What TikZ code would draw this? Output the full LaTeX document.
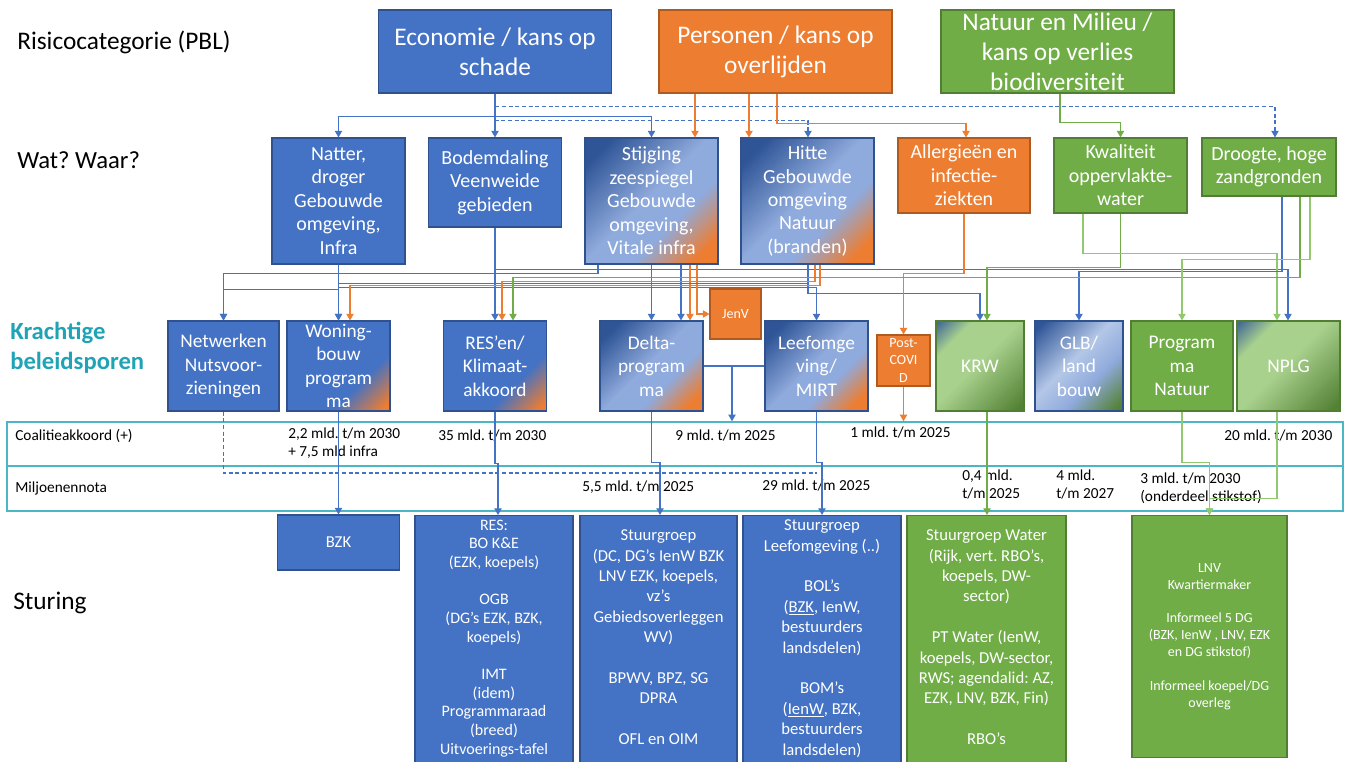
\documentclass[tikz,border=0pt]{standalone}
\usepackage{fontspec}
\setmainfont{Carlito}
\frenchspacing
\usetikzlibrary{positioning,arrows.meta}

\definecolor{accblue}{RGB}{68,114,196}
\definecolor{accblueline}{RGB}{47,82,143}
\definecolor{accorange}{RGB}{237,125,49}
\definecolor{accorangeline}{RGB}{174,90,33}
\definecolor{accgreen}{RGB}{112,173,71}
\definecolor{accgreenline}{RGB}{80,126,50}
\definecolor{darkblue}{RGB}{47,85,151}
\definecolor{paleblue}{RGB}{143,170,220}
\definecolor{palerblue}{RGB}{180,199,231}
\definecolor{palegreen}{RGB}{169,209,142}
\definecolor{darkgreen}{RGB}{84,130,53}
\definecolor{tealtext}{RGB}{32,163,181}
\definecolor{bandline}{RGB}{75,183,196}
\definecolor{lightgreenline}{RGB}{146,200,110}

%% diagonal fills, dark corner top left
\pgfdeclarehorizontalshading{blueorange}{100bp}{color(0bp)=(darkblue); color(22bp)=(darkblue); color(48bp)=(paleblue); color(62bp)=(paleblue); color(78bp)=(accorange); color(100bp)=(accorange)}
\pgfdeclarehorizontalshading{bluecorner}{100bp}{color(0bp)=(accblue); color(64bp)=(accblue); color(82bp)=(accorange); color(100bp)=(accorange)}
\pgfdeclarehorizontalshading{greenmix}{100bp}{color(0bp)=(darkblue); color(13bp)=(darkblue); color(29bp)=(palegreen); color(48bp)=(palegreen); color(82bp)=(darkgreen); color(100bp)=(darkgreen)}
\pgfdeclarehorizontalshading{bluegreen}{100bp}{color(0bp)=(darkblue); color(18bp)=(darkblue); color(45bp)=(palerblue); color(62bp)=(paleblue); color(82bp)=(darkgreen); color(100bp)=(darkgreen)}

\begin{document}
\begin{tikzpicture}[x=0.75pt,y=-0.75pt,>={Triangle[width=5.5pt,length=5pt]}]
\edef\unitpx{0.75pt}
\tikzset{wh/.style 2 args={minimum width=#1*\unitpx,minimum height=#2*\unitpx}}

\tikzstyle{cellbox}=[draw,align=center,text=white,inner sep=0pt,line width=0.8pt]
\tikzstyle{bluebox}=[cellbox,fill=accblue,draw=accblueline]
\tikzstyle{orangebox}=[cellbox,fill=accorange,draw=accorangeline]
\tikzstyle{greenbox}=[cellbox,fill=accgreen,draw=accgreenline]
\tikzstyle{mixbox}=[cellbox,draw=accblueline,shade,shading angle=-45]
\tikzstyle{catfont}=[font=\fontsize{19}{22.5}\selectfont]
\tikzstyle{whatfont}=[font=\fontsize{15}{17.6}\selectfont]
\tikzstyle{lanefont}=[font=\fontsize{14.5}{17.6}\selectfont]
\tikzstyle{sidelabel}=[anchor=west,inner sep=0pt,align=left,font=\fontsize{19}{22.5}\selectfont]
\tikzstyle{band}=[draw=bandline,line width=1.1pt,inner sep=0pt]
\tikzstyle{money}=[anchor=west,inner sep=0pt,align=left,font=\fontsize{11.5}{13.5}\selectfont]
\tikzstyle{steer}=[text=white,align=center,inner sep=0pt,font=\fontsize{12.5}{15.3}\selectfont]
\tikzstyle{bline}=[draw=accblue,line width=0.9pt]
\tikzstyle{oline}=[draw=accorange,line width=0.9pt]
\tikzstyle{gline}=[draw=accgreen,line width=0.9pt]
\tikzstyle{glight}=[draw=lightgreenline,line width=0.9pt]

\useasboundingbox (0,0) rectangle (1351,762);
\clip (0,0) rectangle (1351,762);

%% Row labels
\node[sidelabel] (lblcat) at (17,42) {Risicocategorie (PBL)};
\node[sidelabel,font=\fontsize{18.5}{22.5}\selectfont] (lblwhat) at (17,160) {Wat? Waar?};
\node[sidelabel,text=tealtext,font=\fontsize{18.5}{22.5}\selectfont\bfseries] (lbllane) at (10,348) {Krachtige\\beleidsporen};
\node[sidelabel] (lblsteer) at (13,603) {Sturing};

%% Risk categories
\node[bluebox,catfont,wh={233}{83}] (eco) at (495,51.5) {Economie / kans op\\schade};
\node[orangebox,catfont,wh={233}{83}] (pers) at (775.5,51.5) {Personen / kans op\\overlijden};
\node[greenbox,catfont,wh={233}{83}] (natuur) at (1057.5,51.5) {Natuur en Milieu /\\kans op verlies\\biodiversiteit};

%% What and where
\node[bluebox,whatfont,wh={133}{126}] (natter) at (338.5,201) {Natter,\\droger\\Gebouwde\\omgeving,\\Infra};
\node[bluebox,whatfont,wh={133}{89}] (bodem) at (495,182.5) {Bodemdaling\\Veenweide\\gebieden};
\node[mixbox,shading=blueorange,whatfont,wh={133}{126}] (stijging) at (651.5,201) {Stijging\\zeespiegel\\Gebouwde\\omgeving,\\Vitale infra};
\node[mixbox,shading=blueorange,whatfont,wh={133}{126}] (hitte) at (807.5,201) {Hitte\\Gebouwde\\omgeving\\Natuur\\(branden)};
\node[orangebox,whatfont,wh={132}{75}] (allerg) at (964,175.5) {Allergieën en\\infectie-\\ziekten};
\node[greenbox,whatfont,wh={133}{75}] (kwal) at (1120.5,175.5) {Kwaliteit\\oppervlakte-\\water};
\node[greenbox,whatfont,wh={134}{58}] (droogte) at (1269,167) {Droogte, hoge\\zandgronden};

%% Policy lanes
\node[bluebox,lanefont,wh={111}{90}] (netw) at (223.5,366) {Netwerken\\Nutsvoor-\\zieningen};
\node[mixbox,shading=bluecorner,lanefont,wh={103}{90}] (woning) at (338.5,366) {Woning-\\bouw\\program\\ma};
\node[mixbox,shading=bluecorner,lanefont,wh={103}{90}] (resen) at (495,366) {RES’en/\\Klimaat-\\akkoord};
\node[mixbox,shading=blueorange,lanefont,wh={103}{90}] (delta) at (651.5,366) {Delta-\\program\\ma};
\node[orangebox,font=\fontsize{10.5}{13}\selectfont,wh={51}{50}] (jenv) at (735.5,314) {JenV};
\node[mixbox,shading=blueorange,lanefont,wh={103}{90}] (leef) at (816.5,366) {Leefomge\\ving/\\MIRT};
\node[orangebox,font=\fontsize{10.5}{13}\selectfont,wh={53}{51}] (covid) at (903.5,360.5) {Post-\\COVI\\D};
\node[mixbox,shading=greenmix,draw=accgreenline,lanefont,wh={88}{90}] (krw) at (980,366) {KRW};
\node[mixbox,shading=bluegreen,lanefont,wh={88}{90}] (glb) at (1079,366) {GLB/\\land\\bouw};
\node[greenbox,lanefont,wh={102}{90}] (prognat) at (1182,366) {Program\\ma\\Natuur};
\node[mixbox,shading=greenmix,draw=accgreenline,lanefont,wh={103}{90}] (nplg) at (1288.5,366) {NPLG};

%% Budget bands
\node[band,wh={1336}{44}] (coal) at (675,444) {};
\node[band,wh={1336}{45}] (mjn) at (675,488.5) {};
\node[money] (coaltext) at (15,436) {Coalitieakkoord (+)};
\node[money,anchor=north west] (coalwoning) at (288,428) {2,2 mld. t/m 2030\\+ 7,5 mld infra};
\node[money] (coalres) at (438,436) {35 mld. t/m 2030};
\node[money] (coaldelta) at (675,436) {9 mld. t/m 2025};
\node[money] (coalcovid) at (850,433) {1 mld. t/m 2025};
\node[money] (coalnplg) at (1224,436) {20 mld. t/m 2030};
\node[money] (mjntext) at (15,488) {Miljoenennota};
\node[money] (mjndelta) at (582,487) {5,5 mld. t/m 2025};
\node[money] (mjnleef) at (762,486) {29 mld. t/m 2025};
\node[money,anchor=north west] (mjnkrw) at (962,470) {0,4 mld.\\t/m 2025};
\node[money,anchor=north west] (mjnglb) at (1056,470) {4 mld.\\t/m 2027};
\node[money,anchor=north west] (mjnnat) at (1140,473) {3 mld. t/m 2030\\(onderdeel stikstof)};

%% Steering
\node[bluebox,steer,wh={122}{55}] (bzk) at (338.5,542.5) {BZK};
\node[bluebox,wh={158}{260},anchor=north] (resst) at (494,515) {};
\node[steer,font=\fontsize{12}{14}\selectfont,below=3.5pt of resst.north] (resstlines)
  {RES:\\BO K\&E\\(EZK, koepels)\\[14pt]OGB\\(DG’s EZK, BZK,\\koepels)\\[14pt]IMT\\(idem)\\Programmaraad\\(breed)\\Uitvoerings-tafel};
\node[bluebox,wh={157}{260},anchor=north] (deltast) at (658.5,515) {};
\node[steer,below=11pt of deltast.north] (deltastlines)
  {Stuurgroep\\(DC, DG’s IenW BZK\\LNV EZK, koepels,\\vz’s\\Gebiedsoverleggen\\WV)\\[15.3pt]BPWV, BPZ, SG\\DPRA\\[15.3pt]OFL en OIM};
\node[bluebox,wh={158}{260},anchor=north] (leefst) at (822,515) {};
\node[steer,below=3.5pt of leefst.north] (leefstlines)
  {Stuurgroep\\Leefomgeving (..)\\[15.3pt]BOL’s\\(\underline{BZK}, IenW,\\bestuurders\\landsdelen)\\[15.3pt]BOM’s\\(\underline{IenW}, BZK,\\bestuurders\\landsdelen)};
\node[greenbox,wh={159}{260},anchor=north] (waterst) at (986.5,515) {};
\node[steer,below=11pt of waterst.north] (waterstlines)
  {Stuurgroep Water\\(Rijk, vert. RBO’s,\\koepels, DW-\\sector)\\[15.3pt]PT Water (IenW,\\koepels, DW-sector,\\RWS; agendalid: AZ,\\EZK, LNV, BZK, Fin)\\[15.3pt]RBO’s};
\node[greenbox,font=\fontsize{10.5}{12.7}\selectfont,wh={155}{242},anchor=north] (lnvst) at (1209.5,515)
  {LNV\\Kwartiermaker\\[12.7pt]Informeel 5 DG\\(BZK, IenW , LNV, EZK\\en DG stikstof)\\[12.7pt]Informeel koepel/DG\\overleg};

%% Categories to what/where
\draw[bline,line width=2pt] (eco.south) -- ++(0,25);
\draw[bline,->] (eco.south) -- ++(0,23) -| (natter.north);
\draw[bline,->] (eco.south) -- (bodem.north);
\draw[bline,->] (eco.south) -- ++(0,23) -| (stijging.north);
\draw[bline,densely dashed,->] (eco.south) -- ++(0,27) -| (hitte.north -| 808,0);
\draw[bline,densely dashed,->] (eco.south) -- ++(0,13) -| (droogte.north -| 1275,0);
\draw[oline,->] (pers.south -| 695,0) -- (stijging.north -| 695,0);
\draw[oline,->] (pers.south -| 749,0) -- (hitte.north -| 749,0);
\draw[oline,->] (pers.south -| 777,0) -- ++(0,30) -| (allerg.north -| 966,0);
\draw[gline,->] (natuur.south -| 1060,0) -- ++(0,29) -| (kwal.north);

%% What/where to policy lanes
\draw[bline,->] (natter.south) -- (woning.north);
\draw[bline,->] (natter.south) -- ++(0,25) -| (netw.north);
\draw[bline,->] (natter.south) -- ++(0,23) -| (leef.north);
\draw[bline,->] (stijging.south -| 598,0) -- ++(0,9) -| (netw.north);
\draw[bline,->] (bodem.south) -- (resen.north);
\draw[bline,->] (bodem.south) -- ++(0,42) -| (nplg.north -| 1288,0);
\draw[bline,->] (stijging.south) -- (delta.north);
\draw[bline,->] (stijging.south -| 681,0) -- (delta.north -| 681,0);
\draw[oline,->] (stijging.south -| 690,0) -- (delta.north -| 690,0);
\draw[oline,->] (stijging.south -| 697,0) |- (jenv.west);
\draw[bline,->] (hitte.south -| 808,0) -- ++(0,19) -| (woning.north);
\draw[bline,->] (hitte.south -| 808,0) -- ++(0,29) -| (krw.north -| 980,0);
\draw[oline,->] (hitte.south -| 815,0) -- ++(0,17) -| (resen.north -| 502,0);
\draw[oline,->] (hitte.south -| 820,0) -- ++(0,21) -| (woning.north -| 350,0);
\draw[oline,->] (allerg.south) -- ++(0,60) -| (covid.north);
\draw[gline,->] (kwal.south) -- ++(0,54) -| (krw.north -| 987,0);
\draw[glight,->] (kwal.south -| 1083,0) -- ++(0,40) -| (nplg.north -| 1277,0);
\draw[bline,->] (droogte.south -| 1282,0) -- ++(0,75) -| (glb.north);
\draw[gline,->] (droogte.south -| 1300,0) -- ++(0,81) -| (resen.north -| 513,0);
\draw[glight,->] (droogte.south -| 1310,0) -- ++(0,63) -| (prognat.north);

%% Policy lanes to budgets and steering
\draw[bline,densely dashed] (netw.south) |- (leef.south |- 0,473);
\draw[bline,->] (woning.south) -- (bzk.north);
\draw[bline,->] (resen.south) -- ++(0,52) -| (resst.north -| 498,0);
\draw[bline,->] (delta.south) -- ++(0,51) -| (deltast.north -| 660,0);
\draw[bline] (delta.east) -- (leef.west);
\draw[bline,->] (delta.east -| 732,0) -- (coal.north -| 732,0);
\draw[bline,->] (leef.south) -- ++(0,51) -| (leefst.north);
\draw[oline,->] (covid.south) -- (coal.north -| covid.south);
\draw[gline,->] (krw.south -| 987,0) -- (waterst.north -| 987,0);
\draw[glight,->] (prognat.south) -- ++(0,51) -| (lnvst.north);
\draw[glight,->] (nplg.south -| 1277,0) -- ++(0,87) -| (lnvst.north);

\end{tikzpicture}
\end{document}
